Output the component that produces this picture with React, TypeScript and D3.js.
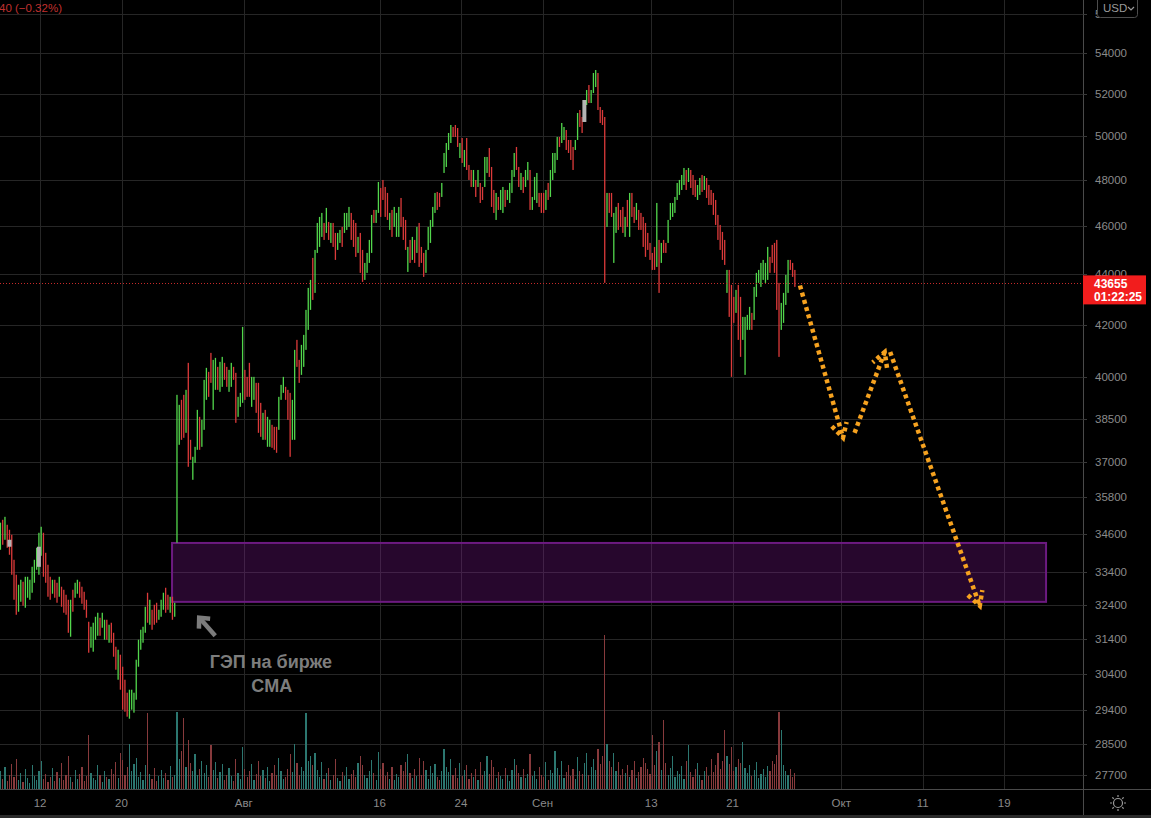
import React from "react";
import * as d3 from "d3";

const W = 1151;
const H = 818;
const PLOT_RIGHT = 1083;
const PLOT_BOTTOM = 789;

// 4H bars of the CME BTC futures, Jul 7 – Sep 27 (weekends skipped), 6 bars per trading day
const highs = [
  34970,35063,35160,34902,34741,34581,33790,33325,33018,33171,
  33110,33263,33263,33171,33572,33790,34167,34645,34838,34645,
  34009,33634,33263,33171,33171,33079,33263,32958,32866,32714,
  32563,32563,32866,33079,33171,33110,32958,32805,32563,31907,
  31760,31878,32055,32174,32025,32174,31966,31966,31819,31878,
  31584,31178,31092,30949,30607,30241,29880,29963,29963,29880,
  30806,31381,31672,31760,32353,32775,32563,32263,32413,32473,
  32263,32563,32775,32927,32714,32654,32654,32473,
  39360,38997,39178,39360,39542,40542,37756,37167,37512,38817,
  38567,38460,39909,40355,40206,40918,40654,40729,40392,40579,
  40767,40542,40392,40280,40542,40392,40169,39287,39432,41914,
  40280,40020,40542,40020,40020,39799,39799,39069,38710,38817,
  38567,38460,38283,38212,38212,39287,39725,40020,39652,39542,
  39432,39178,41032,41413,40654,41222,41605,42578,43453,43776,
  44676,45007,46144,46402,46574,46144,46790,46187,46144,46144,
  45720,45720,45847,45975,46574,46574,46833,46574,46273,46144,
  45552,45720,45007,44469,44882,45425,46488,46703,46703,47927,
  47662,48016,47706,47443,46574,46703,46833,46574,46833,47223,
  46402,46273,45132,45425,45552,45425,45975,46144,45132,44882,
  45007,45975,46273,46833,47443,47487,47443,47883,49230,49686,
  50149,50521,50428,50521,50381,49686,49917,49367,49917,48687,
  48462,48462,48016,48462,47883,47706,49048,49048,49458,48597,
  47574,47443,47267,47574,47706,47574,47574,47883,48462,49230,
  49504,48597,48328,48150,48462,48821,48462,47267,48150,48328,
  47443,47443,47443,47574,47883,48462,49230,49230,49964,49964,
  50615,50428,50288,49825,49825,49504,49825,51085,51227,50896,
  51702,52183,52424,52183,53011,53157,53011,51369,51227,50896,
  47443,47443,47443,46574,46833,47005,46703,46833,46402,47136,
  47443,47443,46833,47005,46703,46574,46402,46144,45720,45299,
  44882,45132,47005,45425,45299,45425,45299,46273,47005,47005,
  47267,47883,48016,48238,48552,48462,48552,48462,48238,48016,
  47794,48105,48238,48194,48105,47794,47574,47443,47136,46488,
  46059,45763,45425,44182,
  44182,43574,43093,43373,43574,43093,42303,42303,42382,42696,
  42460,43493,44061,44182,44469,44593,44469,45132,44717,45216,
  45299,45425,43655,42854,43253,43979,44593,44593,44469,44182,
];

const lows = [
  34104,34263,34421,34167,33947,33325,32563,32115,32204,32503,
  32383,32323,32624,32563,32775,33079,33479,33325,33915,33263,
  33079,32654,32563,32745,32624,32473,32654,32353,32174,32115,
  31584,31468,32204,32624,32745,32624,32443,32263,32025,31006,
  31150,31035,31381,31497,31497,31731,31381,31381,31294,31294,
  30892,30522,30241,29963,29414,29360,29224,29170,29414,29333,
  29687,30607,31092,31294,31584,31878,31819,31672,31819,31878,
  31966,32055,32263,32174,32263,32174,31966,32055,
  34326,37582,37756,37826,38001,36825,37064,36385,36962,37408,
  37408,37512,38106,39178,39287,39799,38817,39542,39542,39469,
  39652,39909,39652,39469,39652,39909,38354,38567,38925,39069,
  39178,39287,39287,38925,39178,38710,38001,37861,37756,37756,
  37512,37512,37477,37408,37305,38106,39178,39432,39178,38460,
  37167,37756,37756,40392,39799,40094,40392,41032,41798,42578,
  42973,43253,44882,45132,45552,45425,45720,45425,45299,45132,
  44593,45007,45299,45132,45720,45847,45975,45425,45132,44717,
  44882,44061,43695,43776,44061,44469,44882,46144,46144,46574,
  46402,47136,46402,46273,45847,45552,45975,45552,45552,45975,
  45425,45007,44100,44469,44593,44469,44882,44305,44469,43898,
  44061,45007,45299,45975,46574,46703,46833,47267,48328,48597,
  49367,49686,49964,49964,49504,49002,48777,48597,48462,48016,
  47706,47706,47267,47706,47005,47136,47706,48328,48150,46833,
  46574,46273,46703,46703,46574,46833,47136,47005,47443,48150,
  48462,47706,47574,47443,47706,48016,46703,46703,47136,47005,
  46833,46574,46574,46703,47136,47267,48016,48328,48912,49504,
  49686,49825,49367,49230,48912,48462,49367,49825,50428,50149,
  50662,51464,51559,51559,52038,52327,51227,50615,50521,43656,
  45975,46574,46402,44469,45720,45847,45975,45720,45552,45975,
  45552,46402,46144,46273,45847,45847,45132,44717,45007,44593,
  44182,44182,44305,43253,44469,44882,44882,45299,46273,46402,
  46574,47136,47355,47574,47794,47574,47927,47662,47355,47267,
  47136,47355,47487,47574,47223,46919,46919,46488,46059,45425,
  45007,44593,44387,43253,
  42303,40020,42069,42460,41413,40767,41413,40094,41798,41798,
  41798,42186,43093,43655,43493,43776,43655,43776,44061,44469,
  44061,42578,40767,41798,42069,42775,43253,44182,43898,43493,
];

// g = bullish (green), r = bearish (red)
const directions = [
  "grgrrrrrgg", "rggggggggr", "rrrgrrgrrr", "rgrggrrrrr", "ggggrggrgr",
  "rrgrrrrggg", "gggggrgrrr", "gggrrgrg",
  "ggrrgrrggg", "rgggrrggrg", "grrggrrggg", "rrrggrrrgr", "ggrrrgggrr", "rggrrggggg",
  "rggggrgrgr", "rggrgggrrr", "grrggggrgg", "rrrrgrgggr", "rrgrgrgrrr", "gggggrrggg",
  "ggrrrgrgrr", "rgrgrrggrr", "rgrggrgggg", "rrgrggrggg", "rrrgrggggr", "ggrrrrggrr",
  "ggrgggrrrr", "grrggrrrgr", "grrgrrrrrr", "rrgrgrrggg", "gggggrgrrr", "ggrgrrrrrr", "rrrg",
  "rrrgrrgggg", "rgggggggrr", "rrrggggrrr",
].join("");

// volume, hundreds of contracts
const volumes = [
  18,10,22,8,14,25, 12,30,9,16,7,20, 11,6,24,13,9,18, 28,10,15,7,12,21,
  8,17,11,26,9,14, 33,12,7,19,10,15, 22,8,13,54,16,11, 9,24,14,7,18,12,
  10,20,15,27,11,36, 29,14,22,45,18,25, 31,12,17,9,24,76, 15,10,21,8,13,19,
  11,16,9,23,12,14, 77,30,38,71,22,49, 26,18,35,14,20,28, 16,24,12,44,19,27,
  11,17,25,9,14,21, 13,8,30,16,10,42, 20,12,18,25,9,15, 28,13,19,11,22,8,
  16,24,14,31,18,10, 12,20,35,17,45,26, 14,22,18,76,28,33, 24,36,19,12,27,10,
  16,21,9,14,30,11, 8,17,13,22,10,15, 19,12,26,33,24,14, 11,18,29,16,9,37,
  20,26,13,17,10,22, 9,15,12,24,18,27, 35,16,11,20,13,31, 14,28,19,10,23,16,
  25,12,9,18,40,22, 17,30,14,21,11,26, 13,19,24,10,16,12, 20,9,27,14,18,33,
  15,29,22,11,17,13, 10,21,14,8,19,30, 24,16,12,20,11,15, 35,13,18,10,22,14,
  12,27,9,19,16,38, 21,14,28,11,17,24, 13,20,10,32,18,15, 26,36,14,22,30,19,
  40,25,33,154,45,28, 22,36,18,27,14,20, 16,24,12,19,28,11, 17,22,31,26,20,15,
  54,24,38,47,19,69, 26,14,21,33,12,18, 15,23,10,28,44,17, 12,20,26,14,9,18,
  22,13,30,17,24,36, 20,28,59,33,25,42, 18,22,30,26,47,21, 16,24,13,19,27,11,
  15,20,12,23,18,28, 25,34,77,59,24,18, 14,20,12,16,
];

// grey-highlighted candle bodies
const markedBars = [4, 17, 258];
const markedTops = [34421, 34200, 51702];
const markedBottoms = [34200, 33570, 50662];

const priceTicks = [56000, 54000, 52000, 50000, 48000, 46000, 44000, 42000, 40000, 38500,
  37000, 35800, 34600, 33400, 32400, 31400, 30400, 29400, 28500, 27700];

const dateTickLabels = ["12", "20", "Авг", "16", "24", "Сен", "13", "21", "Окт", "11", "19"];
const dateTickDays = [3, 9, 18, 28, 34, 40, 48, 54, 62, 68, 74];
const BARS_PER_DAY = 6;

const lastPrice = 43655;
const lastPriceLabel = "43655";
const countdownLabel = "01:22:25";
const headerText = "40 (−0.32%)";

// CME gap zone: trading-day span and price span
const gapDays = [12.72, 77.08];
const gapPrices = [34320, 32500];

// forecast arrows: [day, price] tail -> tip
const forecastTails = [[58.96, 43550], [62.98, 38000], [65.6, 40950]];
const forecastTips = [[62.13, 37830], [65.2, 40950], [72.2, 32380]];

// grey pointer arrow and caption
const pointerTail = [15.9, 31500];
const pointerTip = [14.72, 32030];
const captionLines = ["ГЭП на бирже", "CMA"];
const captionAnchors = [[20.0, 30570], [20.06, 29900]];

const GREEN = "#52d64c";
const RED = "#dc3a3a";
const VOL_GREEN = "#2c7770";
const VOL_RED = "#873a3c";
const GRID = "#262626";
const AXIS_TEXT = "#8a8a8a";
const FONT = "'Liberation Sans', Arial, sans-serif";

function arrowHead(x1: number, y1: number, x2: number, y2: number, len: number, spread: number) {
  const a = Math.atan2(y2 - y1, x2 - x1);
  const p1 = [x2 - len * Math.cos(a - spread), y2 - len * Math.sin(a - spread)];
  const p2 = [x2 - len * Math.cos(a + spread), y2 - len * Math.sin(a + spread)];
  return `M${p1[0]},${p1[1]}L${x2},${y2}L${p2[0]},${p2[1]}`;
}

export default function App() {
  const n = Math.min(highs.length, lows.length, directions.length);

  const dayX = d3.scaleLinear().domain([0, 74]).range([-0.7, -0.7 + 74 * 13.58]);
  const barX = (k: number) => dayX((k + 0.5) / BARS_PER_DAY);
  const y = d3.scaleLog().domain([54000, 27700]).range([53, 774.6]);
  const vY = d3.scaleLinear().domain([0, 160]).range([PLOT_BOTTOM, PLOT_BOTTOM - 160]);

  const bars = d3.range(n);
  const lineGen = d3.line();

  return (
    <div style={{ position: "fixed", left: 0, top: 0, width: W, height: H, background: "#000" }}>
      <svg width={W} height={H} style={{ display: "block", fontFamily: FONT }}>
        <rect x={0} y={0} width={W} height={H} fill="#000" />
        <defs>
          <clipPath id="plot">
            <rect x={0} y={0} width={PLOT_RIGHT} height={PLOT_BOTTOM} />
          </clipPath>
        </defs>

        {/* grid */}
        <g shapeRendering="crispEdges">
          {priceTicks.map((p) => (
            <line key={"hg" + p} x1={0} x2={PLOT_RIGHT} y1={Math.round(y(p)) + 0.5} y2={Math.round(y(p)) + 0.5} stroke={GRID} />
          ))}
          {dateTickDays.map((d) => (
            <line key={"vg" + d} x1={Math.round(dayX(d)) + 0.5} x2={Math.round(dayX(d)) + 0.5} y1={0} y2={PLOT_BOTTOM} stroke={GRID} />
          ))}
        </g>

        <g clipPath="url(#plot)">
          {/* volume */}
          <g shapeRendering="crispEdges">
            {bars.map((k) => (
              <rect key={"v" + k} x={barX(k) - 0.6} width={1.2} y={vY(volumes[k] ?? 0)}
                height={PLOT_BOTTOM - vY(volumes[k] ?? 0)}
                fill={directions[k] === "g" ? VOL_GREEN : VOL_RED} />
            ))}
          </g>

          {/* gap zone */}
          <rect x={dayX(gapDays[0])} y={y(gapPrices[0])} width={dayX(gapDays[1]) - dayX(gapDays[0])}
            height={y(gapPrices[1]) - y(gapPrices[0])} fill="rgba(128,24,150,0.3)" stroke="#6c1a80" strokeWidth={2} />

          {/* candles */}
          {bars.map((k) => (
            <rect key={"c" + k} x={barX(k) - 0.65} width={1.3} y={y(highs[k])}
              height={Math.max(1, y(lows[k]) - y(highs[k]))}
              fill={directions[k] === "g" ? GREEN : RED} />
          ))}
          {markedBars.map((k, i) => (
            <rect key={"m" + k} x={barX(k) - 2} width={4} y={y(markedTops[i])}
              height={y(markedBottoms[i]) - y(markedTops[i])} fill="#b4b4b4" />
          ))}

          {/* last price line */}
          <line x1={0} x2={PLOT_RIGHT} y1={Math.round(y(lastPrice)) + 0.5} y2={Math.round(y(lastPrice)) + 0.5}
            stroke="#c62a2a" strokeDasharray="1 2" />

          {/* forecast arrows */}
          {forecastTails.map((t, i) => {
            const x1 = dayX(t[0]), y1 = y(t[1]);
            const x2 = dayX(forecastTips[i][0]), y2 = y(forecastTips[i][1]);
            return (
              <g key={"fa" + i} stroke="#f6a21f" strokeWidth={4.5} fill="none" strokeDasharray="4 3.5">
                <path d={lineGen([[x1, y1], [x2, y2]]) as string} />
                <path d={arrowHead(x1, y1, x2, y2, 16, 0.5)} />
              </g>
            );
          })}

          {/* pointer arrow */}
          {(() => {
            const x1 = dayX(pointerTail[0]), y1 = y(pointerTail[1]);
            const x2 = dayX(pointerTip[0]), y2 = y(pointerTip[1]);
            return (
              <g stroke="#7c7c7c" strokeWidth={4.5} fill="none" strokeLinecap="butt">
                <path d={lineGen([[x1, y1], [x2, y2]]) as string} />
                <path d={arrowHead(x1, y1, x2, y2, 11, 0.75)} />
              </g>
            );
          })()}
          {captionLines.map((t, i) => (
            <text key={"cap" + i} x={dayX(captionAnchors[i][0])} y={y(captionAnchors[i][1])}
              textAnchor="middle" fontSize={18} fontWeight="bold" fill="#7d7d7d" fontFamily={FONT}>{t}</text>
          ))}
        </g>

        {/* header */}
        <text x={-1} y={12} fontSize={11.5} fill="#c0312f">{headerText}</text>

        {/* axes frame */}
        <g shapeRendering="crispEdges">
          <line x1={PLOT_RIGHT + 0.5} x2={PLOT_RIGHT + 0.5} y1={0} y2={H} stroke="#4a4a4a" />
          <line x1={0} x2={W} y1={PLOT_BOTTOM + 0.5} y2={PLOT_BOTTOM + 0.5} stroke="#4a4a4a" />
          <rect x={0} y={H - 3} width={W} height={3} fill="#2a2a2a" />
        </g>

        {/* price axis */}
        {priceTicks.map((p) => (
          <g key={"pt" + p}>
            <line x1={PLOT_RIGHT} x2={PLOT_RIGHT + 4} y1={Math.round(y(p)) + 0.5} y2={Math.round(y(p)) + 0.5} stroke="#3a3a3a" />
            <text x={1095} y={y(p)} dy="0.35em" fontSize={11.5} fill={AXIS_TEXT}>{p}</text>
          </g>
        ))}

        {/* time axis */}
        {dateTickDays.map((d, i) => (
          <text key={"dt" + i} x={dayX(d)} y={807} textAnchor="middle" fontSize={11.5} fill={AXIS_TEXT}>
            {dateTickLabels[i]}
          </text>
        ))}

        {/* last price label */}
        <rect x={PLOT_RIGHT} y={y(lastPrice) - 7.5} width={63} height={29} fill="#f21d1d" />
        <text x={1094} y={y(lastPrice) + 5} fontSize={12} fontWeight="bold" fill="#fff">{lastPriceLabel}</text>
        <text x={1094} y={y(lastPrice) + 18} fontSize={12} fontWeight="bold" fill="#fff">{countdownLabel}</text>

        {/* currency selector */}
        <rect x={1097.5} y={-3.5} width={40} height={21} rx={3} fill="#000" stroke="#4d4d4d" />
        <text x={1103} y={12} fontSize={11.5} fill="#9a9a9a">USD</text>
        <path d="M1128,7 L1131,10 L1134,7" stroke="#9a9a9a" fill="none" strokeWidth={1.2} />

        {/* settings icon */}
        <g stroke="#9a9a9a" strokeWidth={1.2} fill="none">
          <circle cx={1118} cy={803} r={4.5} />
          {d3.range(8).map((i) => {
            const a = (i * Math.PI) / 4;
            return (
              <line key={"sun" + i} x1={1118 + 6 * Math.cos(a)} y1={803 + 6 * Math.sin(a)}
                x2={1118 + 8 * Math.cos(a)} y2={803 + 8 * Math.sin(a)} />
            );
          })}
        </g>
      </svg>
    </div>
  );
}
